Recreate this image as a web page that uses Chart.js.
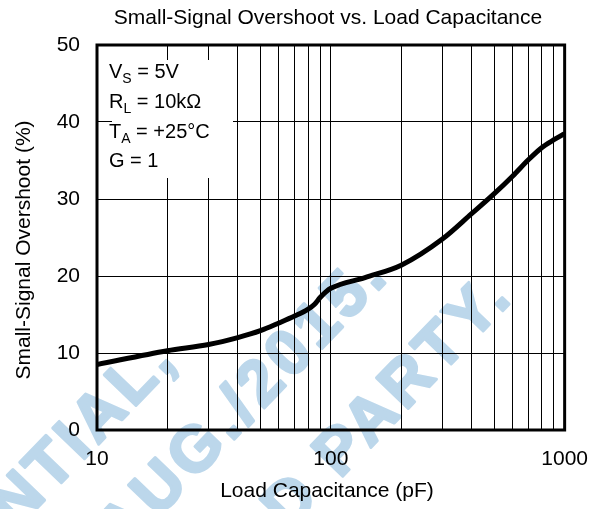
<!DOCTYPE html>
<html lang="en">
<head>
<meta charset="UTF-8">
<title>Small-Signal Overshoot vs. Load Capacitance</title>
<script src="https://cdn.jsdelivr.net/npm/chart.js"></script>
<style>
  body { margin: 0; background: #fff; }
  #wrap { width: 605px; height: 509px; }
</style>
</head>
<body>
<div id="wrap"><canvas id="chart" width="605" height="509"></canvas></div>
<script>
// values
const capacitance = [10, 20, 30, 40, 50, 60, 70, 80, 85, 90, 95, 100, 140, 200, 300, 400, 500, 600, 700, 800, 900, 1000];
const overshoot = [8.5, 10.3, 11.1, 12.0, 12.9, 13.9, 14.8, 15.7, 16.3, 17.2, 17.9, 18.4, 19.8, 21.4, 24.8, 28.1, 30.7, 33.0, 35.1, 36.7, 37.7, 38.5];

const xGridValues = [10, 20, 30, 40, 50, 60, 70, 80, 90, 100, 200, 300, 400, 500, 600, 700, 800, 900, 1000];
const xTickLabels = [10, 100, 1000];
const yTickLabels = [0, 10, 20, 30, 40, 50];

const conditions = [
  ['V', 'S', ' = 5V'],
  ['R', 'L', ' = 10kΩ'],
  ['T', 'A', ' = +25°C'],
  ['G', '', ' = 1']
];
const watermarkLines = ['CONFIDENTIAL,', 'AUG./2015.', 'THIRD PARTY.'];

const FONT = '"Liberation Sans", Arial, sans-serif';

// light blue watermark, drawn under everything
const watermark = {
  id: 'watermark',
  beforeDraw(chart) {
    const ctx = chart.ctx;
    const ends = [[176, 364], [388, 280], [512, 301]];
    ctx.save();
    ctx.fillStyle = '#fff';
    ctx.fillRect(0, 0, chart.width, chart.height);
    ctx.fillStyle = '#bcd7eb';
    ctx.strokeStyle = '#bcd7eb';
    ctx.lineWidth = 3;
    ctx.lineJoin = 'round';
    ctx.font = 'bold 64px ' + FONT;
    ctx.letterSpacing = '5px';
    ctx.textAlign = 'right';
    ctx.textBaseline = 'alphabetic';
    watermarkLines.forEach((t, i) => {
      ctx.save();
      ctx.translate(ends[i][0], ends[i][1]);
      ctx.rotate(-46 * Math.PI / 180);
      ctx.fillText(t, 5, 0);
      ctx.strokeText(t, 5, 0);
      ctx.restore();
    });
    ctx.restore();
  }
};

// test-condition box in the upper left corner
const conditionBox = {
  id: 'conditionBox',
  beforeDatasetsDraw(chart) {
    const ctx = chart.ctx;
    const a = chart.chartArea;
    ctx.save();
    ctx.fillStyle = '#fff';
    ctx.fillRect(a.left + 15, a.top + 15, 121, 118);
    ctx.fillStyle = '#000';
    ctx.textBaseline = 'alphabetic';
    ctx.textAlign = 'left';
    conditions.forEach((c, i) => {
      let x = a.left + 12;
      const y = a.top + 33 + i * 29.8;
      ctx.font = '20px ' + FONT;
      ctx.fillText(c[0], x, y);
      x += ctx.measureText(c[0]).width;
      ctx.font = '14px ' + FONT;
      ctx.fillText(c[1], x, y + 5);
      x += ctx.measureText(c[1]).width;
      ctx.font = '20px ' + FONT;
      ctx.fillText(c[2], x, y);
    });
    ctx.restore();
  }
};

const frameAndTitles = {
  id: 'frameAndTitles',
  afterDraw(chart) {
    const ctx = chart.ctx;
    const a = chart.chartArea;
    ctx.save();
    ctx.strokeStyle = '#000';
    ctx.lineWidth = 3;
    ctx.strokeRect(a.left, a.top, a.right - a.left, a.bottom - a.top);

    ctx.fillStyle = '#000';
    ctx.textAlign = 'center';
    ctx.textBaseline = 'alphabetic';
    ctx.font = '21px ' + FONT;
    ctx.fillText('Small-Signal Overshoot vs. Load Capacitance', 328, 24);
    ctx.fillText('Load Capacitance (pF)', 327, 497);
    ctx.translate(30, 250);
    ctx.rotate(-Math.PI / 2);
    ctx.fillText('Small-Signal Overshoot (%)', 0, 0);
    ctx.restore();
  }
};

new Chart(document.getElementById('chart'), {
  type: 'line',
  data: {
    datasets: [{
      data: capacitance.map((c, i) => ({ x: c, y: overshoot[i] })),
      borderColor: '#000',
      borderWidth: 5,
      pointRadius: 0,
      fill: false,
      cubicInterpolationMode: 'monotone'
    }]
  },
  options: {
    responsive: false,
    devicePixelRatio: 1,
    animation: false,
    layout: { padding: { top: 45, right: 36, left: 0, bottom: 0 } },
    plugins: {
      legend: { display: false },
      tooltip: { enabled: false },
      title: { display: false }
    },
    scales: {
      x: {
        type: 'logarithmic',
        min: 10,
        max: 1000,
        afterBuildTicks: s => { s.ticks = xGridValues.map(v => ({ value: v })); },
        afterFit: s => { s.height = 79; },
        ticks: {
          autoSkip: false,
          maxRotation: 0,
          padding: 17,
          color: '#000',
          font: { size: 21, family: FONT },
          callback: v => xTickLabels.includes(v) ? String(v) : ''
        },
        grid: { color: '#000', lineWidth: 1, drawTicks: false },
        border: { display: false }
      },
      y: {
        type: 'linear',
        min: 0,
        max: 50,
        afterBuildTicks: s => { s.ticks = yTickLabels.map(v => ({ value: v })); },
        afterFit: s => { s.width = 97; },
        ticks: {
          padding: 17,
          color: '#000',
          font: { size: 21, family: FONT }
        },
        grid: { color: '#000', lineWidth: 1, drawTicks: false },
        border: { display: false }
      }
    }
  },
  plugins: [watermark, conditionBox, frameAndTitles]
});
</script>
</body>
</html>
